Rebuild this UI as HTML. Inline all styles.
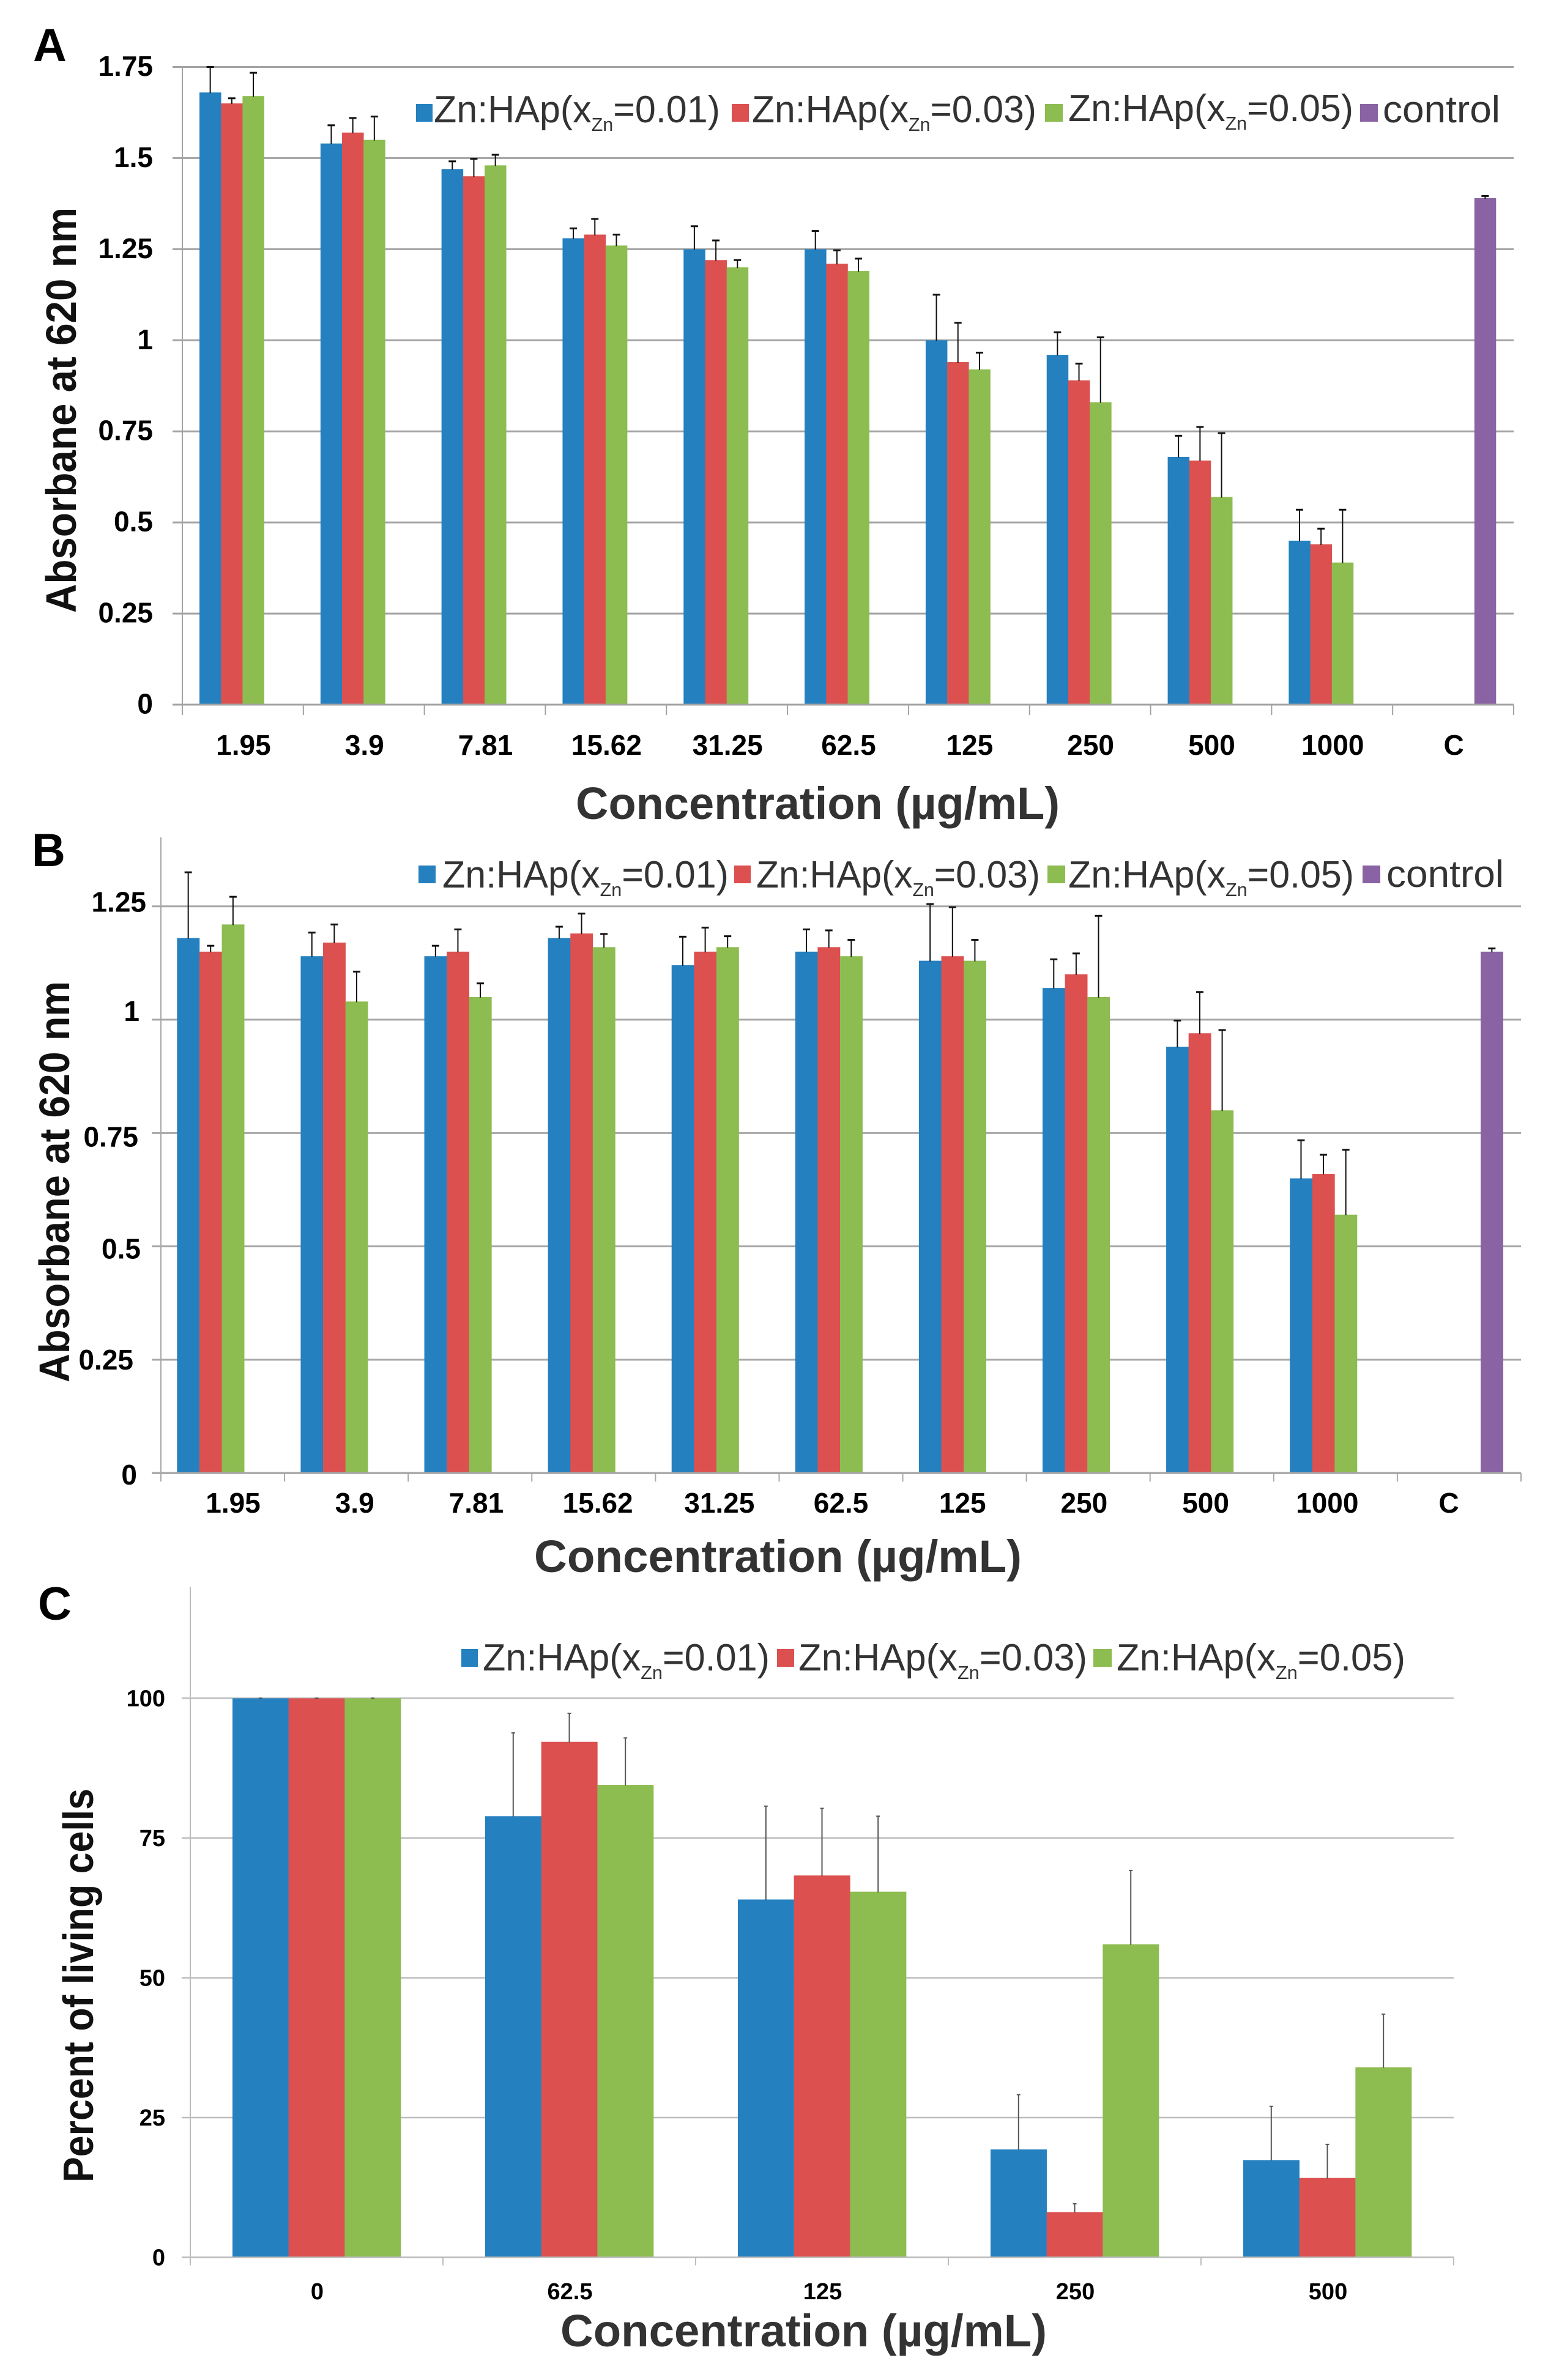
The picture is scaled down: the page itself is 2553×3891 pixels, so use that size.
<!DOCTYPE html>
<html lang="en">
<head>
<meta charset="utf-8">
<title>Absorbance and cell viability charts</title>
<style>
html,body{margin:0;padding:0;background:#fff}
svg{display:block}
text{font-family:"Liberation Sans",sans-serif}
.bold{font-weight:700}
.letter{font-size:76px;font-weight:700;fill:#000}
.ytitle{font-size:70px;font-weight:700;fill:#111}
.xtitle{font-size:74px;font-weight:700;fill:#333}
.lg{font-size:62px;fill:#333}
.sub{font-size:31px}
</style>
</head>
<body>
<svg id="figure" xmlns="http://www.w3.org/2000/svg" width="2553" height="3891" viewBox="0 0 2553 3891">
<rect width="2553" height="3891" fill="#fff"/>
<g id="panel-a"></g>
<g id="panel-b"></g>
<g id="panel-c"></g>

<text class="letter" x="54" y="100">A</text>
<text class="letter" x="52" y="1416">B</text>
<text class="letter" x="62" y="2648">C</text>

<text class="ytitle" transform="translate(124 1002) rotate(-90)" textLength="663" lengthAdjust="spacingAndGlyphs">Absorbane at 620 nm</text>
<text class="ytitle" transform="translate(113 2260) rotate(-90)" textLength="656" lengthAdjust="spacingAndGlyphs">Absorbane at 620 nm</text>
<text class="ytitle" transform="translate(152 3568) rotate(-90)" textLength="644" lengthAdjust="spacingAndGlyphs">Percent of living cells</text>

<text class="xtitle" x="941" y="1339" textLength="791" lengthAdjust="spacingAndGlyphs">Concentration (µg/mL)</text>
<text class="xtitle" x="873" y="2570" textLength="797" lengthAdjust="spacingAndGlyphs">Concentration (µg/mL)</text>
<text class="xtitle" x="916" y="3836" textLength="795" lengthAdjust="spacingAndGlyphs">Concentration (µg/mL)</text>

<g>
  <rect x="680" y="170" width="27" height="29" fill="#2480BF"/>
  <text class="lg" x="709" y="200" textLength="468" lengthAdjust="spacingAndGlyphs">Zn:HAp(x<tspan class="sub" dy="14">Zn</tspan><tspan dy="-14">=0.01)</tspan></text>
  <rect x="1196" y="170" width="28" height="29" fill="#DC5050"/>
  <text class="lg" x="1229" y="200" textLength="465" lengthAdjust="spacingAndGlyphs">Zn:HAp(x<tspan class="sub" dy="14">Zn</tspan><tspan dy="-14">=0.03)</tspan></text>
  <rect x="1708" y="170" width="29" height="29" fill="#8DBC50"/>
  <text class="lg" x="1746" y="198" textLength="466" lengthAdjust="spacingAndGlyphs">Zn:HAp(x<tspan class="sub" dy="14">Zn</tspan><tspan dy="-14">=0.05)</tspan></text>
  <rect x="2223" y="170" width="29" height="29" fill="#8A63A5"/>
  <text class="lg" x="2260" y="200" textLength="192" lengthAdjust="spacingAndGlyphs">control</text>
</g>
<g>
  <rect x="684" y="1415" width="28" height="29" fill="#2480BF"/>
  <text class="lg" x="723" y="1451" textLength="468" lengthAdjust="spacingAndGlyphs">Zn:HAp(x<tspan class="sub" dy="14">Zn</tspan><tspan dy="-14">=0.01)</tspan></text>
  <rect x="1200" y="1415" width="27" height="29" fill="#DC5050"/>
  <text class="lg" x="1236" y="1451" textLength="464" lengthAdjust="spacingAndGlyphs">Zn:HAp(x<tspan class="sub" dy="14">Zn</tspan><tspan dy="-14">=0.03)</tspan></text>
  <rect x="1712" y="1415" width="29" height="29" fill="#8DBC50"/>
  <text class="lg" x="1746" y="1451" textLength="467" lengthAdjust="spacingAndGlyphs">Zn:HAp(x<tspan class="sub" dy="14">Zn</tspan><tspan dy="-14">=0.05)</tspan></text>
  <rect x="2227" y="1415" width="29" height="29" fill="#8A63A5"/>
  <text class="lg" x="2266" y="1450" textLength="192" lengthAdjust="spacingAndGlyphs">control</text>
</g>
<g>
  <rect x="754" y="2696" width="27" height="29" fill="#2480BF"/>
  <text class="lg" x="789" y="2731" textLength="469" lengthAdjust="spacingAndGlyphs">Zn:HAp(x<tspan class="sub" dy="14">Zn</tspan><tspan dy="-14">=0.01)</tspan></text>
  <rect x="1270" y="2696" width="28" height="29" fill="#DC5050"/>
  <text class="lg" x="1305" y="2731" textLength="472" lengthAdjust="spacingAndGlyphs">Zn:HAp(x<tspan class="sub" dy="14">Zn</tspan><tspan dy="-14">=0.03)</tspan></text>
  <rect x="1787" y="2696" width="30" height="29" fill="#8DBC50"/>
  <text class="lg" x="1825" y="2731" textLength="472" lengthAdjust="spacingAndGlyphs">Zn:HAp(x<tspan class="sub" dy="14">Zn</tspan><tspan dy="-14">=0.05)</tspan></text>
</g>
</svg>

<script>
// ---------- Panel A data ----------
const categoriesA = ['1.95','3.9','7.81','15.62','31.25','62.5','125','250','500','1000','C'];
const yTicksA = [0,0.25,0.5,0.75,1,1.25,1.5,1.75];
const yTickLabelsA = ['0','0.25','0.5','0.75','1','1.25','1.5','1.75'];
const a001 = [1.68,1.54,1.47,1.28,1.25,1.25,1.00,0.96,0.68,0.45,null];
const a003 = [1.65,1.57,1.45,1.29,1.22,1.21,0.94,0.89,0.67,0.44,null];
const a005 = [1.67,1.55,1.48,1.26,1.20,1.19,0.92,0.83,0.57,0.39,null];
const aControl = [null,null,null,null,null,null,null,null,null,null,1.39];
const a001Err = [0.07,0.05,0.021,0.027,0.063,0.05,0.125,0.062,0.058,0.085,null];
const a003Err = [0.014,0.04,0.048,0.043,0.054,0.037,0.108,0.046,0.092,0.043,null];
const a005Err = [0.064,0.064,0.029,0.03,0.02,0.034,0.046,0.178,0.175,0.145,null];
const aControlErr = [null,null,null,null,null,null,null,null,null,null,0.006];

// ---------- Panel B data ----------
const categoriesB = ['1.95','3.9','7.81','15.62','31.25','62.5','125','250','500','1000','C'];
const yTicksB = [0,0.25,0.5,0.75,1,1.25];
const yTickLabelsB = ['0','0.25','0.5','0.75','1','1.25'];
const b001 = [1.18,1.14,1.14,1.18,1.12,1.15,1.13,1.07,0.94,0.65,null];
const b003 = [1.15,1.17,1.15,1.19,1.15,1.16,1.14,1.10,0.97,0.66,null];
const b005 = [1.21,1.04,1.05,1.16,1.16,1.14,1.13,1.05,0.80,0.57,null];
const bControl = [null,null,null,null,null,null,null,null,null,null,1.15];
const b001Err = [0.145,0.052,0.023,0.025,0.063,0.049,0.125,0.063,0.058,0.084,null];
const b003Err = [0.013,0.04,0.049,0.044,0.053,0.037,0.108,0.046,0.091,0.042,null];
const b005Err = [0.061,0.066,0.03,0.029,0.024,0.036,0.046,0.179,0.177,0.143,null];
const bControlErr = [null,null,null,null,null,null,null,null,null,null,0.007];

// ---------- Panel C data ----------
const categoriesC = ['0','62.5','125','250','500'];
const yTicksC = [0,25,50,75,100];
const yTickLabelsC = ['0','25','50','75','100'];
const c001 = [100,78.9,64,19.3,17.4];
const c003 = [100,92.2,68.3,8.1,14.2];
const c005 = [100,84.5,65.4,56,34];
const c001Err = [0,14.9,16.7,9.8,9.6];
const c003Err = [0,5.1,12,1.5,6];
const c005Err = [0,8.4,13.5,13.2,9.5];

const BLUE = '#2480BF', RED = '#DC5050', GREEN = '#8DBC50', PURPLE = '#8A63A5';
const NS = 'http://www.w3.org/2000/svg';

function make(tag, attrs, parent) {
  const node = document.createElementNS(NS, tag);
  for (const k in attrs) node.setAttribute(k, attrs[k]);
  parent.appendChild(node);
  return node;
}

function drawPanel(p) {
  const root = document.getElementById(p.id);
  const pxPerUnit = (p.y0 - p.yRef) / p.refValue;
  const yOf = v => p.y0 - v * pxPerUnit;
  const step = (p.right - p.left) / p.categories.length;
  const catLeft = i => p.left + step * i;
  const catCenter = i => catLeft(i) + step / 2;
  const nSeries = p.series.length;

  // gridlines and y tick labels
  p.yTicks.forEach((tick, i) => {
    const y = yOf(tick);
    const line = make('line', {x1: p.left - p.tickOut, x2: p.right, y1: y, y2: y, stroke: p.gridColor, 'stroke-width': p.gridWidth}, root);
    
    
    const nudge = (p.yLabelNudge && p.yLabelNudge[i]) || [0, p.yLabelDy];
    const label = make('text', {x: p.yLabelX + nudge[0], y: y + nudge[1], 'text-anchor': 'end', 'font-size': p.tickFont, 'font-weight': 700, fill: '#000'}, root);
    label.textContent = p.yTickLabels[i];
    
    
  });

  // y axis line
  const yAxis = make('line', {x1: p.left, x2: p.left, y1: p.axisTop, y2: p.y0 + p.tickDown, stroke: p.gridColor, 'stroke-width': 2}, root);
  
  

  // x ticks and category labels
  for (let i = 1; i <= p.categories.length; i++) {
    const tick = make('line', {x1: catLeft(i), x2: catLeft(i), y1: p.y0, y2: p.y0 + p.tickDown, stroke: p.gridColor, 'stroke-width': 2}, root);
    
    
  }
  p.categories.forEach((cat, i) => {
    const lx = p.labelStep ? p.labelStart + p.labelStep * i : catCenter(i) + 1;
    const label = make('text', {x: lx, y: p.xLabelY, 'text-anchor': 'middle', 'font-size': p.tickFont, 'font-weight': 700, fill: '#000'}, root);
    label.textContent = cat;
    
    
  });

  // bars
  p.series.forEach((s, si) => {
    s.values.forEach((v, i) => {
      if (v === null) return;
      const x = catCenter(i) + p.barOffset + (si - nSeries / 2) * p.barWidth;
      const y = yOf(v);
      const bar = make('rect', {x: x, y: y, width: p.barWidth + 0.3, height: p.y0 - y, fill: s.color}, root);
      
      
    });
  });

  // x axis line on top of bars' base
  const xAxis = make('line', {x1: p.left - p.tickOut, x2: p.right, y1: p.y0, y2: p.y0, stroke: p.gridColor, 'stroke-width': p.gridWidth}, root);
  
  

  // error bars
  p.series.forEach((s, si) => {
    s.errors.forEach((e, i) => {
      if (e === null) return;
      const x = catCenter(i) + p.barOffset + (si - nSeries / 2 + 0.5) * p.barWidth;
      const yBase = yOf(s.values[i]);
      const yTop = yOf(s.values[i] + e);
      const stem = make('line', {x1: x, x2: x, y1: yBase + 1, y2: yTop, stroke: p.errColor, 'stroke-width': p.errWidth}, root);
      
      
      const cap = make('line', {x1: x - p.capHalf, x2: x + p.capHalf, y1: yTop, y2: yTop, stroke: p.errColor, 'stroke-width': p.capWidth}, root);
      
      
    });
  });
}

drawPanel({
  id: 'panel-a', key: 'a', categories: categoriesA, yTicks: yTicksA, yTickLabels: yTickLabelsA,
  left: 298, right: 2474, y0: 1152, yRef: 109.5, refValue: 1.75, axisTop: 109,
  tickOut: 16, tickDown: 17, gridColor: '#a3a3a3', gridWidth: 3,
  tickFont: 46, yLabelX: 250, yLabelDy: 14.5, xLabelY: 1234,
  barWidth: 35.2, barOffset: -0.5, errColor: '#111', errWidth: 2, capHalf: 6, capWidth: 3,
  series: [
    {name: 'zn-001', color: BLUE, values: a001, errors: a001Err},
    {name: 'zn-003', color: RED, values: a003, errors: a003Err},
    {name: 'zn-005', color: GREEN, values: a005, errors: a005Err},
    {name: 'control', color: PURPLE, values: aControl, errors: aControlErr}
  ]
});

drawPanel({
  id: 'panel-b', key: 'b', categories: categoriesB, yTicks: yTicksB, yTickLabels: yTickLabelsB,
  left: 263, right: 2486, y0: 2408.3, yRef: 1481.7, refValue: 1.25, axisTop: 1369,
  tickOut: 15, tickDown: 14, gridColor: '#a8a8a8', gridWidth: 3,
  tickFont: 46, yLabelX: 226, xLabelY: 2473,
  yLabelNudge: [[-2,18.5],[-8,16],[4,20],[0,22],[2,2],[13,9]],
  labelStart: 381, labelStep: 198.7,
  barWidth: 36.6, barOffset: -1.5, errColor: '#111', errWidth: 2, capHalf: 6, capWidth: 3,
  series: [
    {name: 'zn-001', color: BLUE, values: b001, errors: b001Err},
    {name: 'zn-003', color: RED, values: b003, errors: b003Err},
    {name: 'zn-005', color: GREEN, values: b005, errors: b005Err},
    {name: 'control', color: PURPLE, values: bControl, errors: bControlErr}
  ]
});

drawPanel({
  id: 'panel-c', key: 'c', categories: categoriesC, yTicks: yTicksC, yTickLabels: yTickLabelsC,
  left: 311, right: 2376, y0: 3690.5, yRef: 2776.4, refValue: 100, axisTop: 2594,
  tickOut: 14, tickDown: 13, gridColor: '#bdbdbd', gridWidth: 2.5,
  tickFont: 38, yLabelX: 270, yLabelDy: 13, xLabelY: 3759,
  barWidth: 91.7, barOffset: 0, errColor: '#555', errWidth: 2, capHalf: 3, capWidth: 2,
  series: [
    {name: 'zn-001', color: BLUE, values: c001, errors: c001Err},
    {name: 'zn-003', color: RED, values: c003, errors: c003Err},
    {name: 'zn-005', color: GREEN, values: c005, errors: c005Err}
  ]
});
</script>
</body>
</html>
